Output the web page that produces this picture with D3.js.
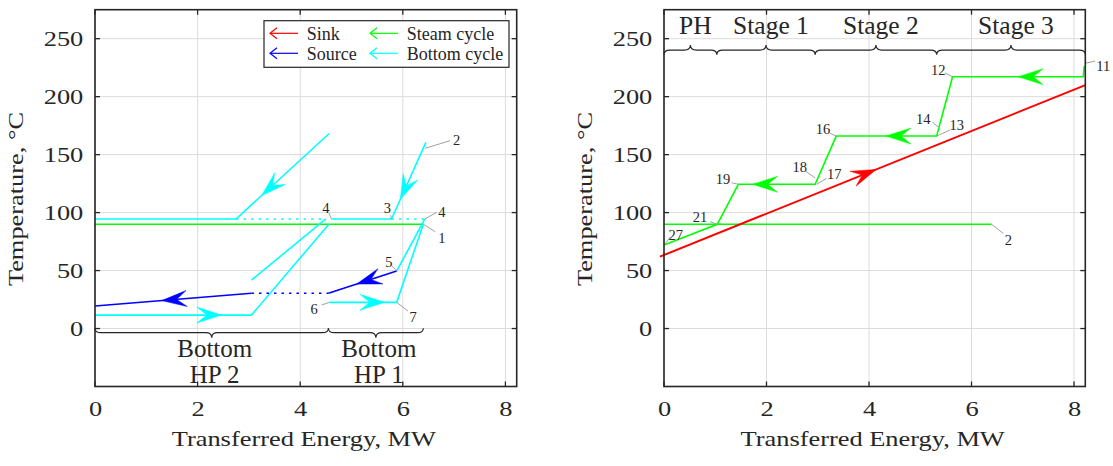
<!DOCTYPE html>
<html><head><meta charset="utf-8">
<script src="https://cdn.jsdelivr.net/npm/d3@7"></script>
<style>
body{margin:0;background:#fff}
text{font-family:"Liberation Serif","Times New Roman",serif;fill:#262626}
</style>
</head><body>
<svg id="c" width="1113" height="466"></svg>
<script>
// ---------------- data ----------------
const xTicks=[0,2,4,6,8];
const yTicks=[0,50,100,150,200,250];
const xDomain=[0,8.22];
const yDomain=[-50,275];
const xLabel="Transferred Energy, MW";
const yLabel="Temperature, °C";
const legendNames=["Sink","Source","Steam cycle","Bottom cycle"];

// left panel (bottom heat pumps)
const leftBottomSolid=[
  [[0,94.5],[2.75,94.5],[4.565,168.2]],
  [[4.61,94.5],[5.78,94.5],[6.45,160.6]],
  [[0,11.6],[3.05,11.6],[4.56,90]],
  [[3.05,41.8],[4.5,94.5]],
  [[4.57,22.6],[5.88,22.6],[6.40,90]],
  [[5.88,49.6],[6.43,94.5]]
];
const leftBottomDotted=[[[2.75,94.5],[4.5,94.5]],[[5.78,94.5],[6.43,94.5]]];
const leftSteam=[[[0,90],[6.4,90]]];
const leftSourceSolid=[[[0,19.4],[3.05,30.4]],[[4.55,30.4],[5.88,49.6]]];
const leftSourceDotted=[[[3.05,30.4],[4.55,30.4]]];
const leftArrows=[
  {s:"bottom",from:[4.565,168.2],to:[2.75,94.5],x:3.25},
  {s:"bottom",from:[6.45,160.6],to:[5.78,94.5],x:5.95},
  {s:"source",from:[3.05,30.4],to:[0,19.4],x:1.30},
  {s:"source",from:[5.88,49.6],to:[4.55,30.4],x:5.10},
  {s:"bottom",from:[0,11.6],to:[3.05,11.6],x:2.47},
  {s:"bottom",from:[4.57,22.6],to:[5.88,22.6],x:5.65}
];
const leftLabels=[
  ["2",7.05,162.6,6.43,155.4,6.92,162],
  ["4",4.50,103.9,4.61,94.5,4.56,99.6],
  ["3",5.70,103.8,5.78,94.5,5.76,97.7],
  ["4",6.76,100.7,6.43,94.5,6.66,100.2],
  ["1",6.76,78.1,6.40,90,6.63,83.5],
  ["5",5.73,57.6,5.88,49.6,5.79,53.9],
  ["6",4.27,16.6,4.57,22.6,4.42,20.3],
  ["7",6.20,10.2,5.88,22.6,6.10,15.1]
];
const leftBraceBounds=[0,4.55,6.4];
const leftBraceNames=[["Bottom","HP 2"],["Bottom","HP 1"]];
const leftBraceT=-3.6;

// right panel (steam cycle stages)
const rightSteam=[[8.2,226.4],[8.18,217.2],[5.63,217.2],[5.32,166],[3.36,166],[2.95,124.4],[1.45,124.4],[1.04,89.9],[0,72]];
const rightSteamFlat=[[0,89.9],[6.39,89.9]];
const rightSink=[[-0.08,62],[8.22,210]];
const rightArrows=[
  {s:"steam",from:[8.18,217.2],to:[5.63,217.2],x:6.91},
  {s:"steam",from:[5.32,166],to:[3.36,166],x:4.33},
  {s:"steam",from:[2.95,124.4],to:[1.45,124.4],x:1.73},
  {s:"sink",from:[-0.08,62],to:[8.22,210],x:4.14}
];
const rightLabels=[
  ["11",8.57,226.4,8.21,228.7,8.41,230.7],
  ["12",5.35,223,5.63,217.2,5.48,220.4],
  ["14",5.06,180.4,5.36,173.5,5.24,177.9],
  ["13",5.71,175.5,5.32,166,5.58,171.2],
  ["16",3.10,171.8,3.36,166,3.24,168.4],
  ["18",2.65,139,2.95,129.8,2.77,135.4],
  ["17",3.32,133,2.98,124.4,3.17,129.5],
  ["19",1.15,128.7,1.45,124.4,1.32,125.8],
  ["21",0.70,96.4,1.04,89.9,0.90,92.1],
  ["27",0.23,80.6,0.01,72.6,0.12,78.7],
  ["2",6.72,76.3,6.39,89.9,6.62,82.1]
];
const rightBraceBounds=[0,1.03,2.95,5.32,8.22];
const rightBraceNames=["PH","Stage 1","Stage 2","Stage 3"];
const rightBraceT=240.2;

// ---------------- styles ----------------
const COL={sink:"#ff0000",source:"#0000ff",steam:"#00ff00",bottom:"#00ffff"};
const AX="#262626";
const SX=1.2; // horizontal stretch of axis text
const FS=22;

const svg=d3.select("#c");
const yTop=9.7,yBot=386.5;

function panel(x0,x1){
  const x=d3.scaleLinear().domain(xDomain).range([x0,x1]);
  const y=d3.scaleLinear().domain(yDomain).range([yBot,yTop]);
  const g=svg.append("g");
  g.append("g").selectAll("line").data(xTicks).join("line")
    .attr("x1",d=>x(d)).attr("x2",d=>x(d)).attr("y1",yTop).attr("y2",yBot)
    .attr("stroke","#dcdcdc").attr("stroke-width",1);
  g.append("g").selectAll("line").data(yTicks).join("line")
    .attr("y1",d=>y(d)).attr("y2",d=>y(d)).attr("x1",x0).attr("x2",x1)
    .attr("stroke","#dcdcdc").attr("stroke-width",1);
  const ax=g.append("g").attr("transform",`translate(0,${yBot})`)
    .call(d3.axisBottom(x).tickValues(xTicks).tickSize(0).tickPadding(14).tickFormat(d3.format("d")));
  ax.select(".domain").remove();
  ax.selectAll("text").attr("font-size",FS).attr("font-family",null).attr("fill",AX)
    .attr("transform",`scale(${SX},1)`);
  const ay=g.append("g").attr("transform",`translate(${x0},0)`)
    .call(d3.axisLeft(y).tickValues(yTicks).tickSize(0).tickPadding(0).tickFormat(d3.format("d")));
  ay.select(".domain").remove();
  ay.selectAll("text").attr("font-size",FS).attr("font-family",null).attr("fill",AX)
    .attr("x",-11.7/SX).attr("transform",`scale(${SX},1)`);
  g.append("text").attr("transform",`translate(${(x0+x1)/2-2},446) scale(${SX},1)`)
    .attr("text-anchor","middle").attr("font-size",FS).text(xLabel);
  g.append("text").attr("transform",`translate(${x0-71.7},199) rotate(-90) scale(${SX},1)`)
    .attr("text-anchor","middle").attr("font-size",FS).text(yLabel);
  return {g,x,y,x0,x1};
}

const line=(P)=>d3.line().x(d=>P.x(d[0])).y(d=>P.y(d[1]));

function drawLines(P,data,color,w,dash){
  P.g.append("g").selectAll("path").data(data).join("path")
    .attr("d",line(P)).attr("fill","none").attr("stroke",color).attr("stroke-width",w)
    .attr("stroke-dasharray",dash||null).attr("stroke-linejoin","miter");
}

function drawArrows(P,arr){
  const len=25,hw=8,notch=0.6*len;
  P.g.append("g").selectAll("path").data(arr).join("path")
    .attr("fill",d=>COL[d.s]).attr("stroke",d=>COL[d.s]).attr("stroke-width",0.5)
    .attr("d",a=>{
      const t=(a.x-a.from[0])/(a.to[0]-a.from[0]);
      const T=a.from[1]+t*(a.to[1]-a.from[1]);
      const tx=P.x(a.x),ty=P.y(T);
      const dx=P.x(a.to[0])-P.x(a.from[0]),dy=P.y(a.to[1])-P.y(a.from[1]);
      const L=Math.hypot(dx,dy),ux=dx/L,uy=dy/L,nx=-uy,ny=ux;
      const bx=tx-ux*len,by=ty-uy*len;
      return `M${tx},${ty}L${bx+nx*hw},${by+ny*hw}L${tx-ux*notch},${ty-uy*notch}L${bx-nx*hw},${by-ny*hw}Z`;
    });
}

function drawLabels(P,labs){
  const g=P.g.append("g");
  g.selectAll("line").data(labs).join("line")
    .attr("x1",d=>P.x(d[3])).attr("y1",d=>P.y(d[4])).attr("x2",d=>P.x(d[5])).attr("y2",d=>P.y(d[6]))
    .attr("stroke","#a0a0a0").attr("stroke-width",1);
  g.selectAll("text").data(labs).join("text")
    .attr("x",d=>P.x(d[1])).attr("y",d=>P.y(d[2])).attr("dy","0.35em")
    .attr("text-anchor","middle").attr("font-size",14.5).text(d=>d[0]);
}

function bracePath(X1,X2,Y,dir){
  const M=(X1+X2)/2,h=4.5,t=5,r=6;
  return `M${X1},${Y-dir*h}Q${X1},${Y} ${X1+r},${Y}L${M-r},${Y}Q${M},${Y} ${M},${Y+dir*t}`+
         `M${M},${Y+dir*t}Q${M},${Y} ${M+r},${Y}L${X2-r},${Y}Q${X2},${Y} ${X2},${Y-dir*h}`;
}

function drawBox(P){
  const g=P.g.append("g");
  xTicks.forEach(d=>{
    g.append("line").attr("x1",P.x(d)).attr("x2",P.x(d)).attr("y1",yBot).attr("y2",yBot-5).attr("stroke",AX).attr("stroke-width",1.3);
    g.append("line").attr("x1",P.x(d)).attr("x2",P.x(d)).attr("y1",yTop).attr("y2",yTop+5).attr("stroke",AX).attr("stroke-width",1.3);
  });
  yTicks.forEach(d=>{
    g.append("line").attr("y1",P.y(d)).attr("y2",P.y(d)).attr("x1",P.x0).attr("x2",P.x0+5).attr("stroke",AX).attr("stroke-width",1.3);
    g.append("line").attr("y1",P.y(d)).attr("y2",P.y(d)).attr("x1",P.x1).attr("x2",P.x1-5).attr("stroke",AX).attr("stroke-width",1.3);
  });
  g.append("rect").attr("x",P.x0).attr("y",yTop).attr("width",P.x1-P.x0).attr("height",yBot-yTop)
    .attr("fill","none").attr("stroke",AX).attr("stroke-width",1.6);
}

// ---------------- left panel ----------------
const L=panel(95,516.7);
drawLines(L,leftSteam,COL.steam,1.6);
drawLines(L,leftBottomSolid,COL.bottom,1.6);
drawLines(L,leftBottomDotted,COL.bottom,1.6,"2.5,5");
drawLines(L,leftSourceSolid,COL.source,1.6);
drawLines(L,leftSourceDotted,COL.source,1.6,"2.5,5");
drawArrows(L,leftArrows);
drawLabels(L,leftLabels);
{
  const Y=L.y(leftBraceT);
  for(let i=0;i<leftBraceNames.length;i++){
    const X1=L.x(leftBraceBounds[i]),X2=L.x(leftBraceBounds[i+1]);
    L.g.append("path").attr("d",bracePath(X1,X2,Y,1)).attr("fill","none").attr("stroke",AX).attr("stroke-width",1.2);
    const t=L.g.append("text").attr("text-anchor","middle").attr("font-size",25);
    leftBraceNames[i].forEach((s,j)=>t.append("tspan").attr("x",(X1+X2)/2+3).attr("y",356.7+26*j).text(s));
  }
}
{
  const lg=L.g.append("g");
  lg.append("rect").attr("x",264).attr("y",20.7).attr("width",245).attr("height",46.6)
    .attr("fill","#fff").attr("stroke",AX).attr("stroke-width",1.2);
  const items=[
    {n:legendNames[0],c:COL.sink,ix:270,iy:33.3},
    {n:legendNames[1],c:COL.source,ix:270,iy:53.3},
    {n:legendNames[2],c:COL.steam,ix:370,iy:33.3},
    {n:legendNames[3],c:COL.bottom,ix:370,iy:53.3}
  ];
  items.forEach(it=>{
    lg.append("line").attr("x1",it.ix).attr("x2",it.ix+28).attr("y1",it.iy).attr("y2",it.iy).attr("stroke",it.c).attr("stroke-width",1.2);
    lg.append("path").attr("d",`M${it.ix+7},${it.iy-5.5}L${it.ix},${it.iy}L${it.ix+7},${it.iy+5.5}`)
      .attr("fill","none").attr("stroke",it.c).attr("stroke-width",1.2);
    lg.append("text").attr("x",it.ix+36.7).attr("y",it.iy+6.8).attr("font-size",18).text(it.n);
  });
}
drawBox(L);

// ---------------- right panel ----------------
const R=panel(664,1085.3);
drawLines(R,[rightSteamFlat],COL.steam,1.6);
drawLines(R,[rightSink],COL.sink,2);
drawLines(R,[rightSteam],COL.steam,1.6);
drawArrows(R,rightArrows);
drawLabels(R,rightLabels);
{
  const Y=R.y(rightBraceT);
  for(let i=0;i<rightBraceNames.length;i++){
    const X1=R.x(rightBraceBounds[i]),X2=R.x(rightBraceBounds[i+1]);
    R.g.append("path").attr("d",bracePath(X1,X2,Y,-1)).attr("fill","none").attr("stroke",AX).attr("stroke-width",1.2);
    R.g.append("text").attr("x",(X1+X2)/2+5).attr("y",34).attr("text-anchor","middle").attr("font-size",25.5).text(rightBraceNames[i]);
  }
}
drawBox(R);
</script>
</body></html>
